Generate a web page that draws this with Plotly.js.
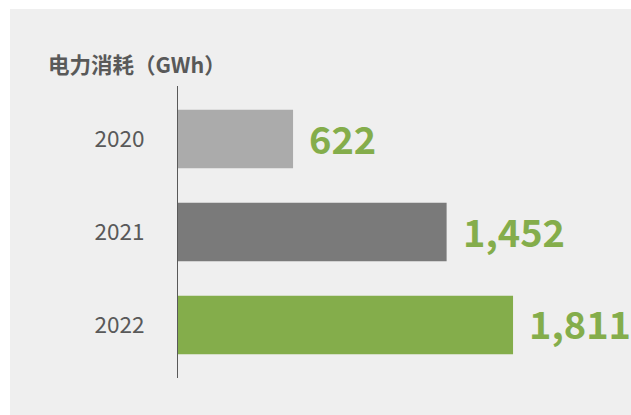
<!DOCTYPE html>
<html>
<head>
<meta charset="utf-8">
<script src="https://cdn.plot.ly/plotly-3.0.1.min.js"></script>
<style>
html,body{margin:0;padding:0;background:#ffffff;}
#bg{position:absolute;left:10px;top:9px;width:621px;height:406px;background:#efefef;}
#chart{position:absolute;left:0;top:0;width:631px;height:415px;}
</style>
</head>
<body>
<div id="bg"></div>
<div id="chart"></div>
<script>
const years = ['2020', '2021', '2022'];
const consumption = [622, 1452, 1811];
const barColors = ['#ababab', '#7a7a7a', '#84ad4b'];
const valueLabels = ['622', '1,452', '1,811'];
const titleText = '电力消耗（GWh）';

const FONT = '"Noto Sans CJK SC", "Noto Sans", sans-serif';

const trace = {
  type: 'bar',
  orientation: 'h',
  y: years,
  x: consumption,
  marker: {color: barColors},
  hoverinfo: 'none'
};

const annotations = years.map((y, i) => ({
  x: consumption[i],
  y: i,
  xref: 'x',
  yref: 'y',
  text: '<b>' + valueLabels[i] + '</b>',
  showarrow: false,
  xanchor: 'left',
  yanchor: 'middle',
  xshift: 14,
  yshift: 2,
  font: {family: FONT, size: 38, color: '#84ad4b'}
}));

const layout = {
  width: 631,
  height: 415,
  paper_bgcolor: 'rgba(0,0,0,0)',
  plot_bgcolor: 'rgba(0,0,0,0)',
  margin: {l: 178, r: 9, t: 86, b: 37},
  showlegend: false,
  bargap: 0.373,
  title: {
    text: '<b>' + titleText + '</b>',
    x: 48 / 631,
    xref: 'container',
    xanchor: 'left',
    y: 1 - 65 / 415,
    yref: 'container',
    yanchor: 'middle',
    font: {family: FONT, size: 21.5, color: '#595959'}
  },
  xaxis: {
    range: [0, 2400],
    visible: false,
    showgrid: false,
    zeroline: false
  },
  yaxis: {
    autorange: false,
    range: [2.57, -0.57],
    type: 'category',
    showline: true,
    linecolor: '#595959',
    linewidth: 1,
    showgrid: false,
    zeroline: false,
    ticks: '',
    ticklabelstandoff: 28,
    tickfont: {family: FONT, size: 22.5, color: '#595959'}
  },
  annotations: annotations
};

Plotly.newPlot('chart', [trace], layout, {staticPlot: true, displayModeBar: false});
</script>
</body>
</html>
